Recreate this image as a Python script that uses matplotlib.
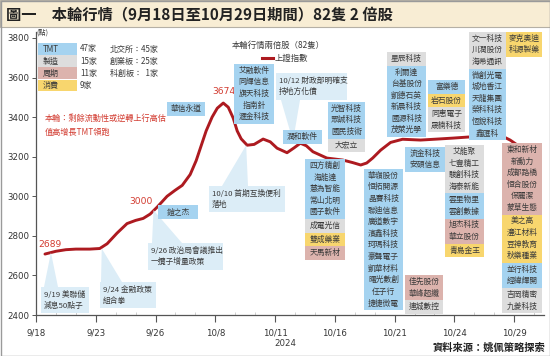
import matplotlib
matplotlib.use('Agg')
import matplotlib.pyplot as plt
import matplotlib.transforms as mtransforms
from matplotlib.patches import Rectangle, Polygon
from matplotlib.lines import Line2D

plt.rcParams['font.family'] = ['Noto Sans CJK TC', 'DejaVu Sans']

# 上證指數走勢 (x = 9/18 起第幾個交易日)
idx_x = [0.45, 1.0, 1.5, 2.0, 2.7, 3.2, 3.57, 4.07, 4.57, 5.0, 5.38, 5.73, 6.08, 6.58,
         6.98, 7.34, 7.74, 8.04, 8.24, 8.54, 8.84, 9.1, 9.4, 9.65, 9.9, 10.1, 10.3,
         10.6, 10.95, 11.4, 11.76, 12.1, 12.6, 12.96, 13.27, 13.57, 13.9, 14.6, 15.4,
         15.9, 16.3, 16.6, 16.9, 17.3, 17.8, 18.4, 19.3, 20.15, 20.95, 21.66, 22.46,
         23.3, 23.8, 24.3, 24.8]
idx_y = [2708, 2722, 2730, 2733, 2733, 2736, 2760, 2814, 2862, 2878, 2888, 2910, 2945, 3000,
         3030, 3055, 3110, 3180, 3240, 3330, 3400, 3445, 3471, 3450, 3395, 3330, 3290,
         3258, 3262, 3289, 3275, 3243, 3220, 3245, 3268, 3255, 3225, 3193, 3183,
         3170, 3158, 3168, 3193, 3233, 3272, 3288, 3284, 3289, 3294, 3299, 3304,
         3309, 3284, 3249, 3235]

tick_pos = [0, 3, 6, 9, 12, 15, 18, 21, 24]
tick_labels = ['9/18', '9/23', '9/26', '10/8', '10/11', '10/16', '10/21', '10/24', '10/29']

cat_names = ['TMT', '製造', '周期', '消費']
cat_counts = ['47家', '15家', '11家', '9家']
board_names = ['北交所：45家', '創業板：25家', '科創板：  1家']
cat_color = {'TMT': '#a5d3f0', '製造': '#dddddd', '周期': '#dcb3ad', '消費': '#f8d66e'}

# 兩倍股分組 (左, 上, 寬, [(類別, 股票)])
stacks = [
    (167, 102, 38, [('TMT', ['華信永道'])]),
    (234, 64, 40, [('TMT', ['艾融軟件', '同輝信息', '旗天科技', '指南針', '滙金科技'])]),
    (283, 130, 39, [('TMT', ['潤和軟件'])]),
    (328, 102, 37, [('TMT', ['光智科技', '眾誠科技', '國民技術']), ('製造', ['大宏立'])]),
    (387, 52, 39, [('製造', ['星辰科技']),
                   ('TMT', ['利爾達', '台基股份', '凱德石英', '新晨科技', '國源科技', '茂萊光學'])]),
    (428, 80, 37, [('TMT', ['富樂德']), ('消費', ['岩石股份']), ('製造', ['同惠電子', '晟楠科技'])]),
    (469, 32, 37, [('製造', ['文一科技', '川潤股份', '海希通訊']),
                   ('TMT', ['微創光電', '城地香江', '天龍集團', '榮科科技', '恆銳科技', '鑫匯科'])]),
    (506, 32, 36, [('消費', ['麥克奧迪', '科源製藥'])]),
    (158, 205, 40, [('TMT', ['鎧之杰'])]),
    (305, 159, 40, [('TMT', ['四方精創', '海能達', '慧為智能', '常山北明', '國子軟件']),
                    ('製造', ['成電光信']), ('消費', ['雙成藥業']), ('周期', ['天馬新材'])]),
    (364, 169, 39, [('TMT', ['華嶺股份', '恒拓開源', '晶賽科技', '聯迪信息', '廣道數字', '濱鑫科技',
                             '珂瑪科技', '豪聲電子', '凱華材料', '曙光數創', '任子行', '捷捷微電'])]),
    (405, 147, 40, [('TMT', ['流金科技', '安碩信息'])]),
    (405, 275, 38, [('周期', ['佳先股份', '華峰超纖']), ('製造', ['連城數控'])]),
    (445, 145, 39, [('製造', ['艾能聚', '七豐精工', '駿創科技', '海泰新能']),
                    ('TMT', ['雲里物里', '雲創數據']), ('周期', ['旭杰科技', '華立股份']),
                    ('消費', ['青島金王'])]),
    (502, 143, 40, [('周期', ['東和新材', '新動力', '成都路橋', '恒合股份', '保麗潔', '蒙草生態']),
                    ('消費', ['美之高', '灃江材料', '豆神教育', '秋樂種業']),
                    ('TMT', ['並行科技', '經緯輝開']), ('製造', ['吉岡精密', '九菱科技'])]),
]

# 事件說明框 (文字, 框位置, 指向的交易日與點位)
events = [
    (['9/19 美聯儲', '減息50點子'], (41, 287, 48, 26), (44, 58), (0.75, 2716)),
    (['9/24 金融政策', '組合拳'], (100, 282, 56, 26), (101, 122), (3.3, 2736)),
    (['9/26 政治局會議推出', '一攬子增量政策'], (148, 243, 75, 27), (152, 182), (5.9, 2930)),
    (['10/10 首期互換便利', '落地'], (209, 186, 76, 26), (222, 248), (10.55, 3258)),
    (['10/12 財政部明確支', '持地方化債'], (276, 73, 71, 27), (281, 300), (12.9, 3278)),
]

peak_labels = [('2689', 0.7, 2757), ('3000', 5.25, 2975), ('3674', 9.45, 3528)]

W, H = 550, 356
fig = plt.figure(figsize=(W / 100, H / 100), dpi=100)
PX = mtransforms.Affine2D().scale(1 / W, -1 / H).translate(0, 1) + fig.transFigure

ax = fig.add_axes([36 / W, (H - 315) / H, 508 / W, 283 / H])
ax.plot(idx_x, idx_y, color='#ad1a20', lw=2.1, solid_capstyle='round', solid_joinstyle='round')
ax.set_xlim(0, 25.5)
ax.set_ylim(2400, 3830)
ax.set_yticks(range(2400, 3801, 200))
ax.set_xticks(tick_pos)
ax.set_xticklabels(tick_labels)
ax.set_xticks(range(0, 26), minor=True)
for s in ['top', 'right']:
    ax.spines[s].set_visible(False)
for s in ['left', 'bottom']:
    ax.spines[s].set_color('#555555')
    ax.spines[s].set_linewidth(0.9)
ax.tick_params(axis='y', length=3, width=0.7, color='#555555', labelsize=6.2, pad=2)
ax.tick_params(axis='x', which='major', length=5, width=0.8, color='#555555', labelsize=6.2, pad=5)
ax.tick_params(axis='x', which='minor', direction='in', length=2, width=0.5, color='#bbbbbb')
for lab in ax.get_xticklabels() + ax.get_yticklabels():
    lab.set_family(['Liberation Sans Narrow', 'DejaVu Sans'])
    lab.set_color('#333333')

for s, xd, yd in peak_labels:
    ax.text(xd, yd, s, color='#d23b30', fontsize=6.6, ha='center', va='center',
            family=['Liberation Sans Narrow', 'DejaVu Sans'])


def rect(x, y, w, h, fc, ec='none', lw=0, z=2):
    fig.add_artist(Rectangle((x, y), w, h, transform=PX, fc=fc, ec=ec, lw=lw, zorder=z))


def txt(x, y, s, **kw):
    kw.setdefault('fontsize', 5.6)
    kw.setdefault('color', '#3a3a3a')
    kw.setdefault('va', 'center')
    fig.text(x, y, s, transform=PX, **kw)


# 標題列與外框
rect(0, 0, W, 27, '#f8edd4', ec='#b5b0a5', lw=0.8, z=1)
rect(0.5, 0.5, W - 1, H - 1, 'none', ec='#9a9a9a', lw=1.0, z=5)
txt(6, 14, '圖一　本輪行情（9月18日至10月29日期間）82隻 2 倍股', fontsize=11,
    fontweight='bold', color='#222222')

# 分類圖例
for i, (c, n) in enumerate(zip(cat_names, cat_counts)):
    y0 = 43 + i * 12.2
    rect(38, y0, 39, 11.5, cat_color[c])
    txt(43, y0 + 6, c, fontsize=5.8)
    txt(80, y0 + 6, n, fontsize=5.8)
for i, b in enumerate(board_names):
    txt(110, 49 + i * 12.2, b, fontsize=5.8)
txt(36, 33, '(點)', fontsize=5.2)

txt(45, 118, '本輪：剩餘流動性或逆轉上行高估', fontsize=5.9, color='#d23b30')
txt(45, 132, '值高增長TMT領跑', fontsize=5.9, color='#d23b30')

txt(232, 45, '本輪行情兩倍股（82隻）', fontsize=6.0)
fig.add_artist(Line2D([262, 273], [58, 58], transform=PX, color='#ad1a20', lw=2.2))
txt(275, 58, '上證指數', fontsize=6.0)

# 事件說明
for lines, (bx, by, bw, bh), (b0, b1), (xd, yd) in events:
    dx, dy = ax.transData.transform((xd, yd))
    tip = (dx, H - dy)
    edge = by if tip[1] < by else by + bh
    fig.add_artist(Polygon([(b0, edge), (b1, edge), tip], closed=True, transform=PX,
                           fc='#dcedf7', ec='none', zorder=1.5))
    rect(bx, by, bw, bh, '#dcedf7', z=1.6)
    for k, s in enumerate(lines):
        txt(bx + 3, by + 7.5 + k * 11.5, s, fontsize=5.6, zorder=3)

# 兩倍股名單
LH = 11.6
for x0, top, w, groups in stacks:
    y = top
    for cat, names in groups:
        h = len(names) * LH + 2
        rect(x0, y, w, h, cat_color[cat], z=2)
        for k, nm in enumerate(names):
            txt(x0 + w / 2, y + 1 + LH * (k + 0.5), nm, ha='center', zorder=3)
        y += h

txt(285, 343, '2024', fontsize=6.2, ha='center', family=['Liberation Sans Narrow', 'DejaVu Sans'])
txt(545, 348, '資料來源：姚佩策略探索', fontsize=7.4, fontweight='bold', ha='right', color='#222222')

fig.savefig('out.png', dpi=100)
